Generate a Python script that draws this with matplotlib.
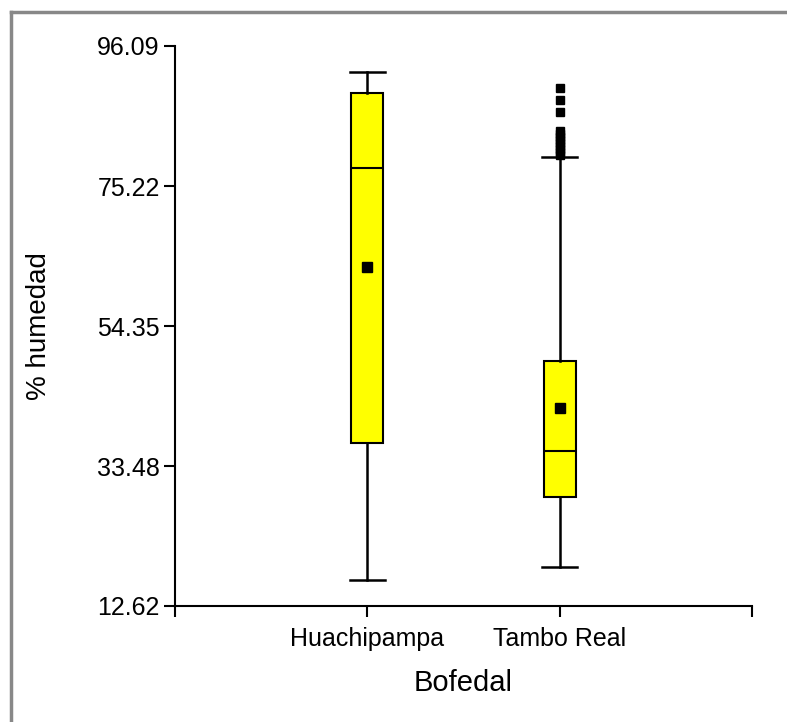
import matplotlib.pyplot as plt
from matplotlib.lines import Line2D

plt.rcParams['font.family'] = ['Liberation Sans', 'DejaVu Sans']

# humidity summary per bofedal
sitios = ["Huachipampa", "Tambo Real"]
whislo = [16.5, 18.4]
q1 = [36.9, 28.9]
mediana = [77.9, 35.7]
q3 = [89.1, 49.1]
whishi = [92.2, 79.6]
media = [63.2, 42.1]
atipicos_tambo = [89.9, 88.1, 86.3, 83.4, 83.0, 82.5, 82.1, 81.6, 81.2, 80.7, 80.3, 79.9]
atipicos = [[], atipicos_tambo]

yticks = [12.62, 33.48, 54.35, 75.22, 96.09]

stats = []
for i, nombre in enumerate(sitios):
    stats.append(dict(label=nombre, whislo=whislo[i], q1=q1[i], med=mediana[i],
                      q3=q3[i], whishi=whishi[i], mean=media[i], fliers=atipicos[i]))

fig = plt.figure(figsize=(7.87, 7.22), dpi=100)
ax = fig.add_axes([0.2224, 0.1607, 0.7331, 0.7756])

ax.bxp(stats, positions=[1, 2], widths=0.165, showmeans=True, patch_artist=True,
       boxprops=dict(facecolor='#ffff00', edgecolor='black', linewidth=1.5),
       medianprops=dict(color='black', linewidth=1.5),
       whiskerprops=dict(color='black', linewidth=1.8),
       capprops=dict(color='black', linewidth=1.8),
       capwidths=0.18,
       meanprops=dict(marker='s', markerfacecolor='black', markeredgecolor='black', markersize=7),
       flierprops=dict(marker='s', markerfacecolor='black', markeredgecolor='black', markersize=6.3))

ax.set_xlim(0, 3)
ax.set_ylim(yticks[0], yticks[-1])
ax.set_xticks([0, 1, 2, 3])
ax.set_xticklabels(["", sitios[0], sitios[1], ""])
ax.set_yticks(yticks)
ax.set_yticklabels(["%.2f" % v for v in yticks])

for s in ['top', 'right']:
    ax.spines[s].set_visible(False)
for s in ['left', 'bottom']:
    ax.spines[s].set_linewidth(1.5)
ax.spines['left'].set_bounds(yticks[0], yticks[-1])

ax.tick_params(axis='both', direction='out', length=8, width=1.5, labelsize=18, pad=3)
ax.tick_params(axis='x', pad=7)
ax.set_xlabel("Bofedal", fontsize=21, labelpad=13)
ax.set_ylabel("% humedad", fontsize=20, labelpad=32)

# outer frame, only the top and left edges are shown
fig.add_artist(Line2D([11 / 787, 1.0], [1 - 12 / 722, 1 - 12 / 722], color='#888888', linewidth=2.5))
fig.add_artist(Line2D([11 / 787, 11 / 787], [0.0, 1 - 12 / 722], color='#888888', linewidth=2.5))

fig.savefig("out.png", dpi=100)
